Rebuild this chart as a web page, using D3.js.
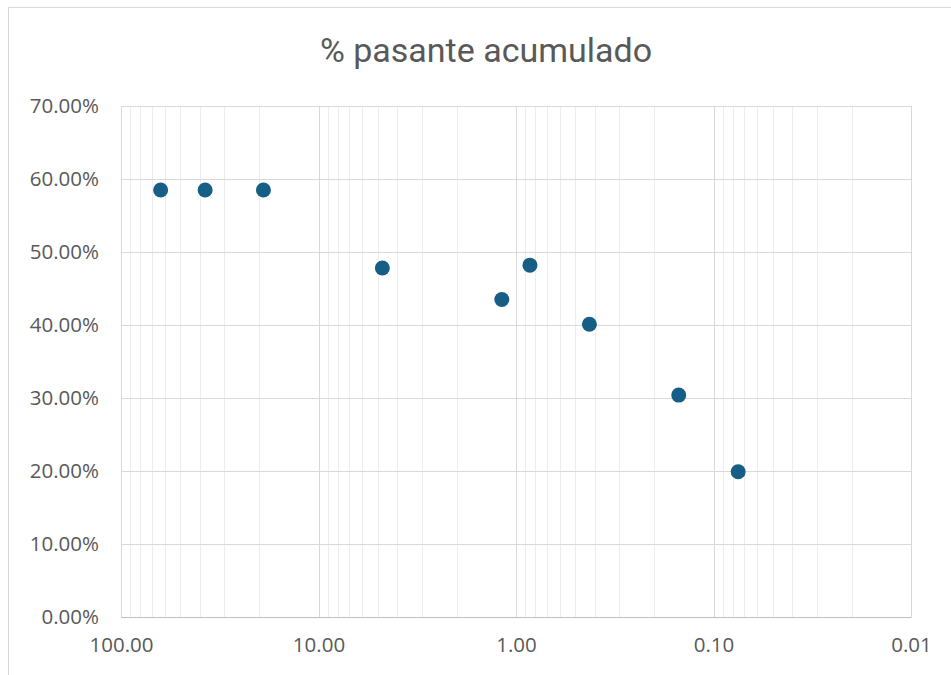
<!DOCTYPE html>
<html>
<head>
<meta charset="utf-8">
<script src="https://cdn.jsdelivr.net/npm/d3@7"></script>
<style>
  body { margin: 0; background: #fff; }
  svg { display: block; }
</style>
</head>
<body>
<svg class="grafico"></svg>
<script>
// abertura de malla (mm) y % pasante acumulado
const aberturas = [63, 37.5, 19, 4.75, 1.18, 0.85, 0.425, 0.15, 0.075];
const pasante   = [58.5, 58.5, 58.5, 47.8, 43.5, 48.2, 40.1, 30.4, 19.9];
const ticks_x   = [100, 10, 1, 0.1, 0.01];
const ticks_y   = [0, 10, 20, 30, 40, 50, 60, 70];
const titulo    = "% pasante acumulado";

const W = 951, H = 675;
const M = { left: 121, right: 911, top: 106, bottom: 617 };

const svg = d3.select(".grafico").attr("width", W).attr("height", H);

// borde del área del gráfico
svg.append("rect")
   .attr("x", 8.5).attr("y", 7.5)
   .attr("width", W + 10).attr("height", H + 10)
   .attr("fill", "none").attr("stroke", "#d9d9d9").attr("stroke-width", 1);

const x = d3.scaleLog().domain([100, 0.01]).range([M.left, M.right]);
const y = d3.scaleLinear().domain([0, 70]).range([M.bottom, M.top]);

// lineas menores (2..9 de cada decada)
const menores = [];
for (let e = -2; e < 2; e++) {
    for (let k = 2; k <= 9; k++) menores.push(k * Math.pow(10, e));
}
svg.append("g").selectAll("line")
   .data(menores)
   .join("line")
   .attr("x1", d => Math.round(x(d)) + 0.5).attr("x2", d => Math.round(x(d)) + 0.5)
   .attr("y1", M.top).attr("y2", M.bottom)
   .attr("stroke", "#ececec").attr("stroke-width", 1);

// lineas mayores
svg.append("g").selectAll("line")
   .data(ticks_y)
   .join("line")
   .attr("x1", M.left).attr("x2", M.right)
   .attr("y1", d => Math.round(y(d)) + 0.5).attr("y2", d => Math.round(y(d)) + 0.5)
   .attr("stroke", "#d9d9d9").attr("stroke-width", 1);

svg.append("g").selectAll("line")
   .data(ticks_x)
   .join("line")
   .attr("x1", d => Math.round(x(d)) + 0.5).attr("x2", d => Math.round(x(d)) + 0.5)
   .attr("y1", M.top).attr("y2", M.bottom)
   .attr("stroke", "#d9d9d9").attr("stroke-width", 1);

// ejes
const eje_x = svg.append("g")
   .attr("transform", `translate(0,${M.bottom})`)
   .call(d3.axisBottom(x).tickValues(ticks_x).tickFormat(d3.format(".2f")).tickSize(0).tickPadding(20));
eje_x.select(".domain").attr("stroke", "#bfbfbf");

const eje_y = svg.append("g")
   .attr("transform", `translate(${M.left},0)`)
   .call(d3.axisLeft(y).tickValues(ticks_y).tickFormat(d => d3.format(".2f")(d) + "%").tickSize(0).tickPadding(22));
eje_y.select(".domain").remove();

svg.selectAll(".tick text")
   .attr("fill", "#595959")
   .style("font-family", "'Open Sans', sans-serif")
   .style("font-size", "20.5px");

// puntos
const datos = aberturas.map((a, i) => ({ abertura: a, pasante: pasante[i] }));
svg.append("g").selectAll("circle")
   .data(datos)
   .join("circle")
   .attr("cx", d => x(d.abertura))
   .attr("cy", d => y(d.pasante))
   .attr("r", 7.5)
   .attr("fill", "#175e86");

// titulo
svg.append("text")
   .attr("x", 486).attr("y", 62)
   .attr("text-anchor", "middle")
   .attr("fill", "#595959")
   .style("font-family", "'Liberation Sans Narrow', 'Roboto', sans-serif")
   .style("font-size", "34px")
   .text(titulo);
</script>
</body>
</html>
